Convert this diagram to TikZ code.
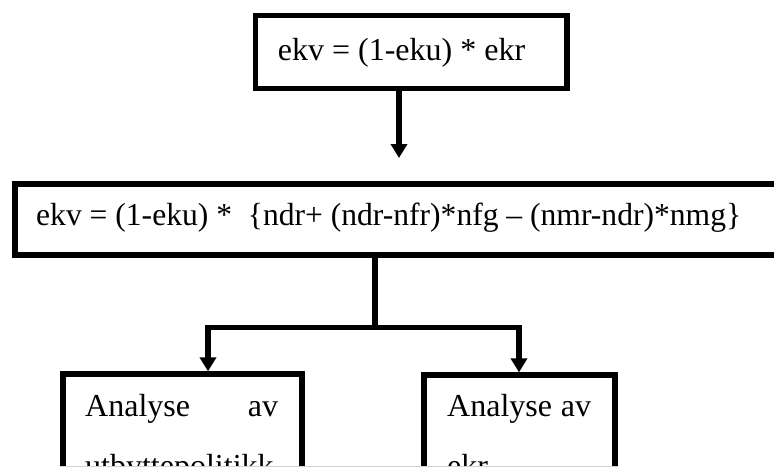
\documentclass[tikz,border=0pt]{standalone}
\usepackage{fontspec}
\usepackage{graphicx}
\setmainfont{Liberation Serif}
\usetikzlibrary{arrows.meta}
\tikzset{
  box/.style={draw=black, line width=5.3pt, inner sep=0pt, fill=white},
  txt/.style={inner sep=0pt, anchor=base west, font=\fontsize{32pt}{38pt}\selectfont},
  conn/.style={draw=black, line width=5.3pt},
  arr/.style={conn, -{Triangle[width=16pt,length=14pt]}}
}
\begin{document}
\begin{tikzpicture}[x=1pt,y=-1pt]
\useasboundingbox (0,0) rectangle (774,469);
\begin{scope}
\clip (0,0) rectangle (774,466);
% boxes
\node[box, minimum width=311.5pt, minimum height=73pt] (top) at (411.25,52) {};
\node[box, minimum width=775pt, minimum height=71pt] (mid) at (402.5,219.5) {};
\node[box, minimum width=239pt, minimum height=150pt] (lb) at (182.5,449) {};
\node[box, minimum width=191pt, minimum height=150pt] (rb) at (519.5,450) {};
% texts
\node[txt] (toptext) at (277.7,60) {ekv = (1-eku) * ekr};
\node[txt] (midtext) at (36,225) {\resizebox{705pt}{\height}{ekv = (1-eku) *\ \ \{ndr+ (ndr-nfr)*nfg – (nmr-ndr)*nmg\}}};
\node[txt] (lt1) at (85,416.7) {\makebox[193pt][l]{Analyse\hfill av}};
\node[txt] (lt2) at (85,476) {utbyttepolitikk};
\node[txt] (rt1) at (447,416.7) {\makebox[144pt][l]{Analyse\hfill av}};
\node[txt] (rt2) at (447,476) {ekr};
% connectors
\coordinate (a1) at (399,158);
\draw[arr] (top.south -| a1) -- (a1);
\coordinate (jn) at (375,327.5);
\coordinate (la) at (208,327.5);
\coordinate (ra) at (519,327.5);
\draw[conn] (mid.south -| jn) -- (jn);
\draw[arr] (jn) -- (la) -- (la |- lb.north);
\draw[arr] (jn) -- (ra) -- (ra |- rb.north);
\end{scope}
\coordinate (g1) at (60,466.5);
\coordinate (g2) at (618,466.5);
\draw[gray!35, line width=1pt] (g1) -- (g2);
\end{tikzpicture}
\end{document}
